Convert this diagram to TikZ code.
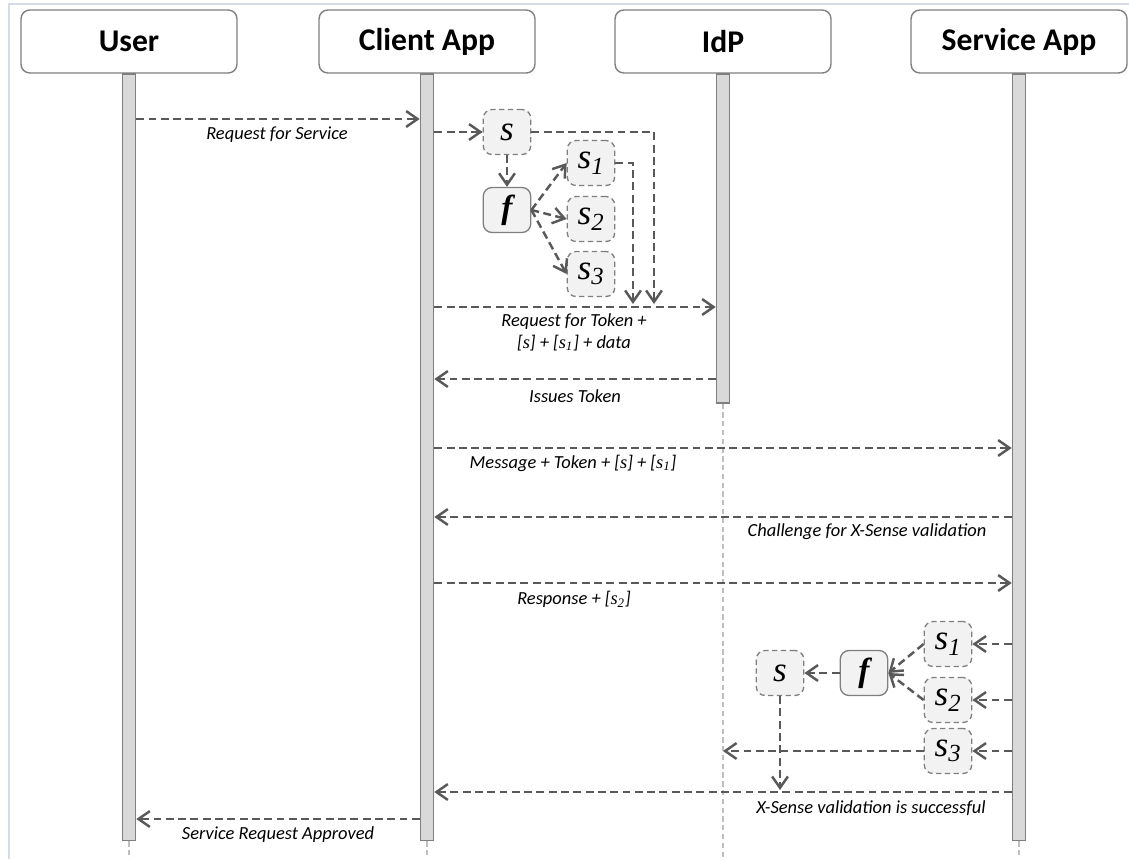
\documentclass[tikz,border=0pt]{standalone}
\usepackage{fontspec}
\setmainfont{Carlito}
\newfontfamily\serifit{Liberation Serif}
\usetikzlibrary{arrows.meta}

\definecolor{linegray}{HTML}{595959}
\definecolor{boxgray}{HTML}{7F7F7F}
\definecolor{barfill}{HTML}{D9D9D9}
\definecolor{keyfill}{HTML}{F2F2F2}
\definecolor{framecol}{HTML}{D6DCE5}

\newcommand{\ks}{{\serifit\itshape s}}
\newcommand{\ksub}[1]{{\serifit\itshape s\textsubscript{#1}}}

\begin{document}
\begin{tikzpicture}[
            x=0.02cm, y=-0.02cm,
            every node/.style={inner sep=0pt}
        ]
        \tikzstyle {head} = [draw=boxgray, line width=0.8pt, rounded corners=5pt, fill=white, minimum width=4.32cm, minimum height=1.26cm, font=\fontsize{18}{20}\selectfont\bfseries]
        \tikzstyle {bar} = [draw=boxgray, line width=0.9pt, fill=barfill, minimum width=0.26cm, anchor=north]
        \tikzstyle {life} = [draw=black!25, line width=0.6pt, dash pattern=on 3pt off 2pt]
        \tikzstyle {key} = [draw=boxgray, line width=0.75pt, dash pattern=on 3pt off 2pt, rounded corners=5pt, fill=keyfill, minimum width=0.95cm, minimum height=0.9cm, font=\fontsize{20}{22}\selectfont\serifit\itshape]
        \tikzstyle {fbox} = [key, solid, font=\fontsize{19}{22}\selectfont\serifit\bfseries\itshape]
        \tikzstyle {msg} = [draw=linegray, line width=1.4pt, dash pattern=on 4.5pt off 2.5pt, -{Straight Barb[length=6.5pt,width=9pt]}]
        \tikzstyle {lbl} = [font=\fontsize{10.5}{12}\selectfont\itshape, align=center]

        \useasboundingbox (0,0) rectangle (1129,859);
        \draw[framecol, line width=1pt] (9,859) -- (9,4) -- (1129,4);

        % participants
        \node [head] (user) at (129,41.5) {User};
        \node [head] (client) at (427,41.5) {Client App};
        \node [head] (idp) at (723,41.5) {IdP};
        \node [head] (service) at (1019,41.5) {Service App};

        \node [bar, minimum height=15.34cm] (ubar) at (129,73) {};
        \node [bar, minimum height=15.34cm] (cbar) at (427,73) {};
        \node [bar, minimum height=6.58cm] (ibar) at (723,73) {};
        \node [bar, minimum height=15.34cm] (sbar) at (1019,73) {};

        \draw [life] (ubar.south) -- (ubar.south |- 0,859);
        \draw [life] (cbar.south) -- (cbar.south |- 0,859);
        \draw [life] (ibar.south) -- (ibar.south |- 0,859);
        \draw [life] (sbar.south) -- (sbar.south |- 0,859);

        % splitting the secret
        \node [key] (s) at (507,132) {s};
        \node [fbox] (f) at (507,210) {f};
        \node [key] (sa) at (591,163) {s\textsubscript{1}};
        \node [key] (sb) at (591,219) {s\textsubscript{2}};
        \node [key] (sc) at (591,274) {s\textsubscript{3}};
        \coordinate (tka) at (633,304);
        \coordinate (tkb) at (654,304);

        % recombining at the service
        \node [key] (rsa) at (948,644) {s\textsubscript{1}};
        \node [key] (rsb) at (948,700) {s\textsubscript{2}};
        \node [key] (rsc) at (948,751) {s\textsubscript{3}};
        \node [fbox] (rf) at (864,673) {f};
        \node [key] (rs) at (780,673) {s};
        \coordinate (ok) at (780,790);

        \draw [msg] (ubar.east |- 0,119) -- (cbar.west |- 0,119);
        \node [lbl] (l1) at (277,135) {Request for Service};

        \draw [msg] (cbar.east |- 0,132) -- (s.west);
        \draw [msg] (s.south) -- (f.north);
        \draw [msg] (f.east) -- (sa.west);
        \draw [msg] (f.east) -- (sb.west);
        \draw [msg] (f.east) -- (sc.west);
        \draw [msg] (sa.east) -| (tka);
        \draw [msg] (s.east) -| (tkb);

        \draw [msg] (cbar.east |- 0,307) -- (ibar.west |- 0,307);
        \node [lbl] (l2) at (574,332.5) {Request for Token +\\{}[\ks] + [\ksub{1}] + data};

        \draw [msg] (ibar.west |- 0,379) -- (cbar.east |- 0,379);
        \node [lbl] (l3) at (575,396) {Issues Token};

        \draw [msg] (cbar.east |- 0,448) -- (sbar.west |- 0,448);
        \node [lbl] (l4) at (573,463) {Message + Token + [\ks] + [\ksub{1}]};

        \draw [msg] (sbar.west |- 0,517) -- (cbar.east |- 0,517);
        \node [lbl] (l5) at (867,532) {Challenge for X-Sense validation};

        \draw [msg] (cbar.east |- 0,583) -- (sbar.west |- 0,583);
        \node [lbl] (l6) at (574,599) {Response + [\ksub{2}]};

        \draw [msg] (sbar.west |- rsa) -- (rsa.east);
        \draw [msg] (sbar.west |- rsb) -- (rsb.east);
        \draw [msg] (sbar.west |- rsc) -- (rsc.east);
        \draw [msg] (rsa.west) -- (rf.east);
        \draw [msg] (rsb.west) -- (rf.east);
        \draw [msg] (rf.west) -- (rs.east);
        \draw [msg] (rsc.west) -- (rsc.west -| ibar.south);
        \draw [msg] (rs.south) -- (ok);

        \draw [msg] (sbar.west |- 0,792) -- (cbar.east |- 0,792);
        \node [lbl] (l7) at (871,808) {X-Sense validation is successful};

        \draw [msg] (cbar.west |- 0,819) -- (ubar.east |- 0,819);
        \node [lbl] (l8) at (278,835) {Service Request Approved};
\end{tikzpicture}
\end{document}
